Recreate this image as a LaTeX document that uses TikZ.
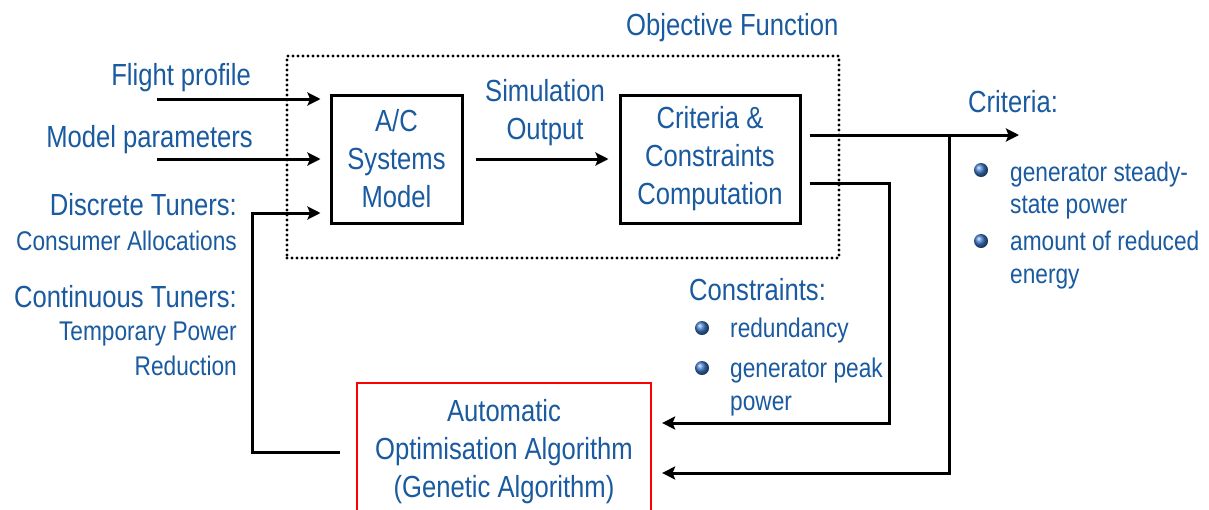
\documentclass[tikz,border=0pt]{standalone}
\usepackage{fontspec}
\setmainfont{Liberation Sans}[FakeStretch=0.84]
\usetikzlibrary{arrows.meta}
\definecolor{txtblue}{RGB}{25,90,160}
\definecolor{bulblue}{RGB}{60,120,200}
\begin{document}
\begin{tikzpicture}[x=1pt,y=-1pt,
  big/.style={font=\fontsize{30.5}{38}\selectfont, text=txtblue, inner sep=0pt},
  small/.style={font=\fontsize{27}{33}\selectfont, text=txtblue, inner sep=0pt},
  blk/.style={draw, line width=3pt, inner sep=0pt, align=center, font=\fontsize{30.5}{38}\selectfont, text=txtblue},
  arr/.style={line width=3pt, -{Stealth[length=13pt,width=13pt,inset=2.5pt]}},
  dotbox/.style={draw, line width=3.2pt, dash pattern=on 0pt off 5pt, line cap=round, inner sep=0pt},
]
\useasboundingbox (0,0) rectangle (1209,509);
\clip (0,0) rectangle (1209,509);
\fill[white] (0,0) rectangle (1209,509);

% objective function dotted box
\node[dotbox, minimum width=552pt, minimum height=202pt] (objbox) at (563,157) {};
\node[big, anchor=base west] (oflabel) at (626,35) {Objective Function};

% blocks
\node[blk, minimum width=131pt, minimum height=128pt] (ac) at (396.5,159) {A/C\\Systems\\Model};
\node[blk, minimum width=180pt, minimum height=128pt] (cc) at (710,159) {Criteria \&\\Constraints\\Computation};
\node[blk, draw=red, line width=2.2pt, minimum width=294pt, minimum height=138pt] (oa) at (504,452) {Automatic\\Optimisation Algorithm\\(Genetic Algorithm)};

% left labels
\node[big, anchor=base east] (fp) at (251,85) {Flight profile};
\node[big, anchor=base east] (mp) at (253,147) {Model parameters};
\node[big, anchor=base east] (dt) at (237,215) {Discrete Tuners:};
\node[small, anchor=base east] (ca) at (237,250) {Consumer Allocations};
\node[big, anchor=base east] (ct) at (237,307) {Continuous Tuners:};
\node[small, anchor=base east] (tp) at (237,340) {Temporary Power};
\node[small, anchor=base east] (rd) at (237,375) {Reduction};

% simulation output
\node[big, align=center] (so) at (545,113) {Simulation\\Output};

% criteria
\node[big, anchor=base west] (crit) at (968,112) {Criteria:};
\shade[ball color=bulblue] (981,170) circle (7pt);
\node[small, anchor=base west] (c1a) at (1010,181) {generator steady-};
\node[small, anchor=base west] (c1b) at (1010,213) {state power};
\shade[ball color=bulblue] (981,241) circle (7pt);
\node[small, anchor=base west] (c2a) at (1010,250) {amount of reduced};
\node[small, anchor=base west] (c2b) at (1010,283) {energy};

% constraints
\node[big, anchor=base west] (cons) at (689,300) {Constraints:};
\shade[ball color=bulblue] (702,328) circle (7pt);
\node[small, anchor=base west] (k1) at (730,337) {redundancy};
\shade[ball color=bulblue] (702,368) circle (7pt);
\node[small, anchor=base west] (k2a) at (730,377) {generator peak};
\node[small, anchor=base west] (k2b) at (730,410) {power};

% connectors
\coordinate (fpin) at (157,99);
\coordinate (mpin) at (157,159);
\draw[arr, shorten >=9pt] (fpin) -- (fpin -| ac.west);
\draw[arr, shorten >=9pt] (mpin) -- (mpin -| ac.west);
\draw[arr, shorten <=12pt, shorten >=10pt] (ac.east) -- (cc.west);

\coordinate (fb) at (252,452);
\coordinate (dtin) at (252,213);
\draw[arr, shorten <=16pt, shorten >=9pt] (oa.west |- fb) -- (fb) -- (dtin) -- (dtin -| ac.west);

\coordinate (critout) at (1019,135);
\coordinate (jn) at (949,135);
\coordinate (jb) at (949,473);
\draw[arr, shorten <=8pt] (cc.east |- critout) -- (critout);
\draw[arr, shorten >=10pt] (jn) -- (jb) -- (jb -| oa.east);

\coordinate (cs) at (889,183);
\coordinate (csb) at (889,423);
\draw[arr, shorten <=8pt, shorten >=10pt] (cc.east |- cs) -- (cs) -- (csb) -- (csb -| oa.east);
\end{tikzpicture}
\end{document}
